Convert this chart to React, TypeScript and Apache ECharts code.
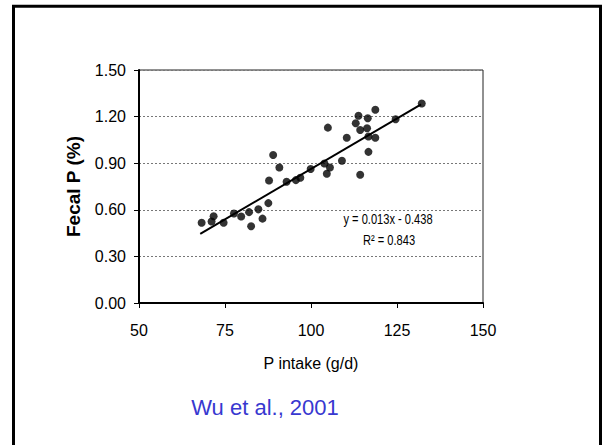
import React, { useEffect, useRef } from "react";
import * as echarts from "echarts";

const xTicks = { min: 50, max: 150, interval: 25 };
const yTicks = { min: 0, max: 1.5, interval: 0.3 };

const intakeX = [
  68.2, 71.1, 71.7, 74.6, 77.6, 79.7, 82.0, 82.6, 84.7, 85.9, 87.6, 87.8,
  89.0, 90.8, 92.9, 95.6, 96.9, 99.9, 103.9, 104.6, 104.9, 105.5, 109.0,
  110.4, 113.0, 113.8, 114.3, 114.3, 116.3, 116.5, 116.7, 116.7, 118.7,
  118.7, 124.6, 132.2,
];
const fecalY = [
  0.517, 0.525, 0.558, 0.517, 0.576, 0.557, 0.585, 0.494, 0.603, 0.543,
  0.643, 0.789, 0.953, 0.872, 0.781, 0.791, 0.806, 0.863, 0.898, 0.832,
  1.129, 0.872, 0.916, 1.064, 1.157, 1.205, 1.114, 0.826, 1.125, 1.189,
  1.072, 0.973, 1.244, 1.064, 1.183, 1.284,
];
const trendX = [67.8, 132];
const trendY = [0.445, 1.278];

const xTitle = "P intake (g/d)";
const yTitle = "Fecal P (%)";
const equation = "y = 0.013x - 0.438";
const rSquared = "R² = 0.843";
const source = "Wu et al., 2001";

const SANS = "'Liberation Sans', Arial, sans-serif";

export default function App() {
  const ref = useRef<HTMLDivElement>(null);
  useEffect(() => {
    if (!ref.current) return;
    const chart = echarts.init(ref.current, null, { renderer: "svg" });
    chart.setOption({
      animation: false,
      backgroundColor: "#ffffff",
      grid: {
        left: 139,
        top: 70,
        width: 344,
        height: 233,
        show: true,
        borderColor: "#222",
        borderWidth: 1,
        backgroundColor: "transparent",
      },
      xAxis: {
        type: "value",
        min: xTicks.min,
        max: xTicks.max,
        interval: xTicks.interval,
        name: xTitle,
        nameLocation: "middle",
        nameGap: 52,
        nameTextStyle: { fontFamily: SANS, fontSize: 16, color: "#000", verticalAlign: "top" },
        axisLine: { lineStyle: { color: "#000", width: 2 } },
        axisTick: { show: true, length: 5, lineStyle: { color: "#000", width: 1 } },
        axisLabel: { fontFamily: SANS, fontSize: 16, color: "#000", margin: 19 },
        splitLine: { show: false },
      },
      yAxis: {
        type: "value",
        min: yTicks.min,
        max: yTicks.max,
        interval: yTicks.interval,
        name: yTitle,
        nameLocation: "middle",
        nameRotate: 90,
        nameGap: 56,
        nameTextStyle: { fontFamily: SANS, fontSize: 19, fontWeight: "bold", color: "#000" },
        axisLine: { lineStyle: { color: "#000", width: 2 } },
        axisTick: { show: true, length: 5, lineStyle: { color: "#000", width: 1 } },
        axisLabel: {
          fontFamily: SANS,
          fontSize: 16,
          color: "#000",
          margin: 13,
          formatter: (v: number) => v.toFixed(2),
        },
        splitLine: { show: true, lineStyle: { color: "#777", width: 1, type: [2, 2] } },
      },
      series: [
        {
          type: "scatter",
          data: intakeX.map((x, i) => [x, fecalY[i]]),
          symbol: "circle",
          symbolSize: 8,
          itemStyle: { color: "#000" },
          z: 3,
        },
        {
          type: "line",
          data: trendX.map((x, i) => [x, trendY[i]]),
          symbol: "none",
          lineStyle: { color: "#000", width: 2 },
          z: 4,
        },
      ],
      graphic: [
        {
          type: "rect",
          shape: { x: 13.5, y: 6.3, width: 587, height: 470 },
          style: { fill: "none", stroke: "#000", lineWidth: 3 },
          silent: true,
        },
        {
          type: "text",
          x: 388,
          y: 219,
          scaleX: 0.74,
          style: {
            text: equation,
            fontFamily: SANS,
            fontSize: 15,
            fill: "#000",
            align: "center",
            verticalAlign: "middle",
          },
        },
        {
          type: "text",
          x: 389,
          y: 240,
          scaleX: 0.74,
          style: {
            text: rSquared,
            fontFamily: SANS,
            fontSize: 15,
            fill: "#000",
            align: "center",
            verticalAlign: "middle",
          },
        },
        {
          type: "text",
          x: 265,
          y: 407,
          style: {
            text: source,
            fontFamily: SANS,
            fontSize: 22,
            fill: "#3838d0",
            align: "center",
            verticalAlign: "middle",
          },
        },
      ],
    });
    return () => chart.dispose();
  }, []);
  return (
    <div
      ref={ref}
      style={{ position: "fixed", left: 0, top: 0, width: 602, height: 445, background: "#fff" }}
    />
  );
}
